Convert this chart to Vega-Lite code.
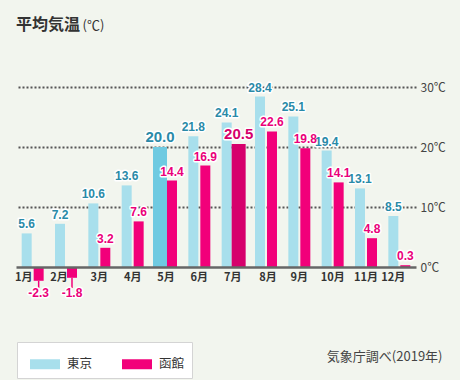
{
  "$schema": "https://vega.github.io/schema/vega-lite/v6.json",
  "width": 400,
  "height": 240,
  "autosize": {"type": "none"},
  "padding": {"left": 16, "right": 44, "top": 60, "bottom": 80},
  "background": "#f2f5ee",
  "title": {"text": "平均気温", "anchor": "start", "frame": "group", "offset": -14, "fontSize": 16, "font": "Noto Sans CJK JP", "fontWeight": "bold", "color": "#333333"},
  "config": {
    "view": {"stroke": null},
    "font": "Noto Sans CJK JP",
    "locale": {"number": {"decimal": ".", "thousands": ",", "grouping": [3], "currency": ["", ""], "minus": "-"}}
  },
  "data": {"values": [
    {"month": "1月", "city": "東京", "value": 5.6},
    {"month": "2月", "city": "東京", "value": 7.2},
    {"month": "3月", "city": "東京", "value": 10.6},
    {"month": "4月", "city": "東京", "value": 13.6},
    {"month": "5月", "city": "東京", "value": 20.0},
    {"month": "6月", "city": "東京", "value": 21.8},
    {"month": "7月", "city": "東京", "value": 24.1},
    {"month": "8月", "city": "東京", "value": 28.4},
    {"month": "9月", "city": "東京", "value": 25.1},
    {"month": "10月", "city": "東京", "value": 19.4},
    {"month": "11月", "city": "東京", "value": 13.1},
    {"month": "12月", "city": "東京", "value": 8.5},
    {"month": "1月", "city": "函館", "value": -2.3},
    {"month": "2月", "city": "函館", "value": -1.8},
    {"month": "3月", "city": "函館", "value": 3.2},
    {"month": "4月", "city": "函館", "value": 7.6},
    {"month": "5月", "city": "函館", "value": 14.4},
    {"month": "6月", "city": "函館", "value": 16.9},
    {"month": "7月", "city": "函館", "value": 20.5},
    {"month": "8月", "city": "函館", "value": 22.6},
    {"month": "9月", "city": "函館", "value": 19.8},
    {"month": "10月", "city": "函館", "value": 14.1},
    {"month": "11月", "city": "函館", "value": 4.8},
    {"month": "12月", "city": "函館", "value": 0.3}
  ]},
  "encoding": {
    "x": {
      "field": "month", "type": "nominal",
      "sort": ["1月","2月","3月","4月","5月","6月","7月","8月","9月","10月","11月","12月"],
      "scale": {"paddingInner": 0, "paddingOuter": 0},
      "axis": {
        "orient": "bottom", "offset": -33, "zindex": 1,
        "domainColor": "#666666", "domainWidth": 2.5, "ticks": false,
        "labelAngle": 0, "labelPadding": 4, "labelFontSize": 11, "labelFontWeight": "bold", "labelColor": "#333333", "labelBaseline": "top",
        "labelOffset": {"condition": [{"test": "datum.value === '1月'", "value": -9}, {"test": "datum.value === '2月'", "value": -7}, {"test": "datum.value === '12月'", "value": -6}, {"test": "datum.value === '8月'", "value": 2}], "value": 0},
        "title": "気象庁調べ(2019年)", "titleX": 426, "titleY": 89, "titleAlign": "right", "titleBaseline": "middle",
        "titleFontSize": 13, "titleFontWeight": "normal", "titleColor": "#444444"
      }
    },
    "xOffset": {"field": "city", "type": "nominal", "sort": ["東京","函館"], "scale": {"paddingInner": 0, "paddingOuter": 0.39}}
  },
  "layer": [
    {
      "mark": {"type": "bar"},
      "encoding": {
        "y": {
          "field": "value", "type": "quantitative",
          "scale": {"domain": [-5.5, 34.5], "nice": false},
          "axis": {
            "orient": "right", "values": [0, 10, 20, 30], "labelExpr": "datum.value + '℃'",
            "grid": true, "gridDash": [2, 2], "gridWidth": 2, "gridColor": "#555555",
            "gridOpacity": {"condition": {"test": "datum.value === 0", "value": 0}, "value": 1},
            "domain": false, "ticks": false, "labelPadding": 4, "labelFontSize": 12, "labelColor": "#444444",
            "title": "(℃)", "titleAngle": 0, "titleX": -334, "titleY": -35, "titleAlign": "left", "titleBaseline": "middle",
            "titleFontSize": 13, "titleFontWeight": "normal", "titleColor": "#333333"
          }
        },
        "y2": {"datum": 0},
        "color": {
          "condition": [
            {"test": "datum.month === '5月' && datum.city === '東京'", "value": "#6fcae1"},
            {"test": "datum.month === '7月' && datum.city === '函館'", "value": "#d6006c"}
          ],
          "field": "city", "type": "nominal", "sort": ["東京","函館"],
          "scale": {"domain": ["東京","函館"], "range": ["#a8dfec", "#f2007a"]},
          "legend": {
            "orient": "none", "legendX": 1, "legendY": 282, "direction": "horizontal", "title": null,
            "fillColor": "#ffffff", "strokeColor": "#d4d4d4", "padding": 7, "symbolOffset": 6,
            "symbolType": "M-1,-0.333H1V0.333H-1Z", "symbolSize": 900, "symbolStrokeWidth": 0,
            "labelOffset": 7, "columnPadding": 23, "labelFontSize": 12.5, "labelColor": "#333333"
          }
        },
        "size": {
          "condition": {"test": "(datum.month === '5月' && datum.city === '東京') || (datum.month === '7月' && datum.city === '函館')", "value": 14},
          "value": 10
        }
      }
    },
    {
      "transform": [{"filter": "datum.value < 0"}],
      "mark": {"type": "rule", "color": "#f2007a", "strokeWidth": 1.5},
      "encoding": {
        "y": {"field": "value", "type": "quantitative", "title": "(℃)"},
        "y2": {"datum": -3.5}
      }
    },
    {
      "transform": [{"filter": "datum.value >= 0"}],
      "mark": {"type": "text", "baseline": "bottom", "dy": -2, "fontWeight": "bold", "stroke": "#ffffff", "strokeWidth": 3, "strokeJoin": "round", "font": "Liberation Sans"},
      "encoding": {
        "y": {"field": "value", "type": "quantitative", "title": "(℃)"},
        "text": {"field": "value", "type": "quantitative", "format": ".1f"},
        "color": {"value": "#ffffff"},
        "size": {"condition": {"test": "(datum.month === '5月' && datum.city === '東京') || (datum.month === '7月' && datum.city === '函館')", "value": 15}, "value": 12}
      }
    },
    {
      "transform": [{"filter": "datum.value >= 0"}],
      "mark": {"type": "text", "baseline": "bottom", "dy": -2, "fontWeight": "bold", "font": "Liberation Sans"},
      "encoding": {
        "y": {"field": "value", "type": "quantitative", "title": "(℃)"},
        "text": {"field": "value", "type": "quantitative", "format": ".1f"},
        "color": {
          "condition": [
            {"test": "datum.month === '7月' && datum.city === '函館'", "value": "#d6006c"},
            {"test": "datum.city === '東京'", "value": "#2a8aa8"}
          ],
          "value": "#ea007a"
        },
        "size": {"condition": {"test": "(datum.month === '5月' && datum.city === '東京') || (datum.month === '7月' && datum.city === '函館')", "value": 15}, "value": 12}
      }
    },
    {
      "transform": [{"filter": "datum.value < 0"}],
      "mark": {"type": "text", "baseline": "middle", "fontWeight": "bold", "fontSize": 12, "stroke": "#ffffff", "strokeWidth": 3, "strokeJoin": "round", "font": "Liberation Sans"},
      "encoding": {
        "y": {"datum": -4.3},
        "text": {"field": "value", "type": "quantitative", "format": ".1f"},
        "color": {"value": "#ffffff"}
      }
    },
    {
      "transform": [{"filter": "datum.value < 0"}],
      "mark": {"type": "text", "baseline": "middle", "fontWeight": "bold", "fontSize": 12, "font": "Liberation Sans"},
      "encoding": {
        "y": {"datum": -4.3},
        "text": {"field": "value", "type": "quantitative", "format": ".1f"},
        "color": {"value": "#ea007a"}
      }
    }
  ]
}
